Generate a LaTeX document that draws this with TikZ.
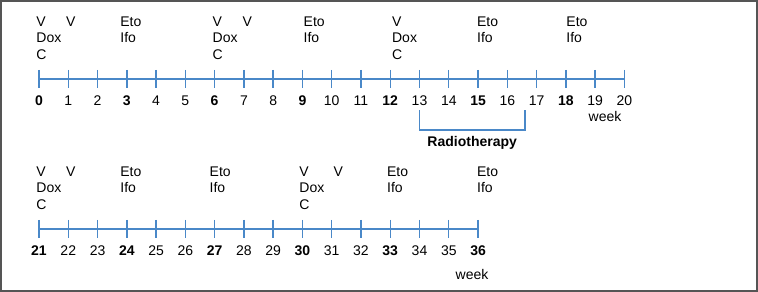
\documentclass[tikz,border=0pt]{standalone}
\usepackage{fontspec}
\setmainfont{Liberation Sans}
\usepackage{xcolor}
\definecolor{tlblue}{HTML}{4A88C8}
\definecolor{framegray}{HTML}{555555}
\tikzset{
  frame/.style={line width=1pt, draw=framegray},
  axisline/.style={line width=0.9pt, draw=tlblue},
  wktick/.style={line width=0.7pt, draw=tlblue},
  wknum/.style={anchor=base, inner sep=0pt, font=\fontsize{7}{8.3}\selectfont},
  drug/.style={anchor=north west, inner sep=0pt, align=left, font=\fontsize{7}{8.3}\selectfont},
  rtlabel/.style={anchor=base, inner sep=0pt, font=\fontsize{7}{8.3}\selectfont\bfseries},
}

\begin{document}
\begin{tikzpicture}[x=0.5pt, y=-0.5pt]
  \useasboundingbox (0,0) rectangle (758,292);
  \draw[frame] (1,1) rectangle (757,291);
  % weeks 0--20
  \coordinate (a0) at (39,79);
  \coordinate (a20) at (624.4,79);
  \draw[axisline] (a0) -- (a20);
  \foreach \w in {0,...,20}{
    \pgfmathtruncatemacro\rem{mod(\w,3)}
    \draw[wktick] (39+29.27*\w,70) -- (39+29.27*\w,88);
    \node[wknum] (n\w) at (39+29.27*\w,105.5) {\ifnum\rem=0\bfseries\fi\w};
  }
  \foreach \x/\txt [count=\i] in {36/{V\\Dox\\C}, 65.7/V, 120/{Eto\\Ifo},
      212.3/{V\\Dox\\C}, 242.3/V, 303.3/{Eto\\Ifo}, 391.7/{V\\Dox\\C},
      476.7/{Eto\\Ifo}, 566/{Eto\\Ifo}}{
    \node[drug] (top\i) at (\x,16) {\txt};
  }
  \node[wknum] (wk1) at (605,121.7) {week};
  % radiotherapy bracket
  \coordinate (r1) at (419.3,110);
  \coordinate (r2) at (525,110);
  \draw[wktick] (r1) -- ++(0,20) -| (r2);
  \node[rtlabel] (rt) at (472.2,146.7) {Radiotherapy};
  % weeks 21--36
  \coordinate (b21) at (39,229);
  \coordinate (b36) at (478.1,229);
  \draw[axisline] (b21) -- (b36);
  \foreach \w in {21,...,36}{
    \pgfmathtruncatemacro\rem{mod(\w,3)}
    \draw[wktick] (39+29.27*\w-614.67,220) -- (39+29.27*\w-614.67,238);
    \node[wknum] (n\w) at (39+29.27*\w-614.67,255.3) {\ifnum\rem=0\bfseries\fi\w};
  }
  \foreach \x/\txt [count=\i] in {36/{V\\Dox\\C}, 65.7/V, 120/{Eto\\Ifo},
      209.3/{Eto\\Ifo}, 299/{V\\Dox\\C}, 333.3/V, 386.7/{Eto\\Ifo},
      476.7/{Eto\\Ifo}}{
    \node[drug] (bot\i) at (\x,166) {\txt};
  }
  \node[wknum] (wk2) at (472,280) {week};
\end{tikzpicture}
\end{document}
